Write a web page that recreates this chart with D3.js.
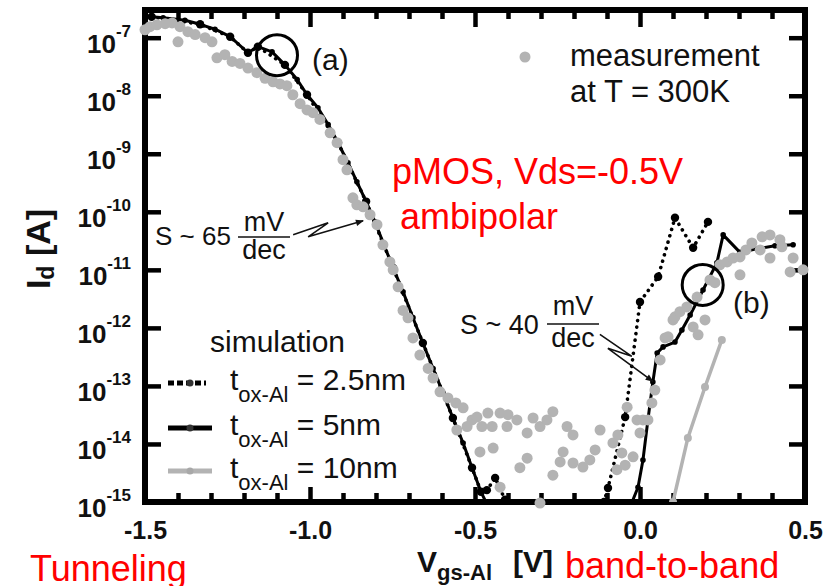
<!DOCTYPE html>
<html><head><meta charset="utf-8">
<script src="https://cdn.jsdelivr.net/npm/d3@7"></script>
<style>body{margin:0;background:#fff}svg{display:block}</style>
</head><body>
<svg id="chart" width="836" height="586"></svg>
<script>
// ---------------- data ----------------
const xTickValues = [-1.5, -1.0, -0.5, 0.0, 0.5];
const yTickExponents = [-15, -14, -13, -12, -11, -10, -9, -8, -7];

// simulation t_ox-Al = 5nm  [Vgs (V), Id (A)]
const sim5nmLeft = [[-1.48,2.3e-7],[-1.445,2.2e-7],[-1.379,2.0e-7],[-1.333,1.7e-7],[-1.288,1.4e-7],[-1.242,1.04e-7],
 [-1.188,5.5e-8],[-1.158,7.0e-8],[-1.115,5.7e-8],[-1.076,3.4e-8],[-1.039,1.9e-8],[-1.009,1.04e-8],[-0.976,6.2e-9],
 [-0.945,3.2e-9],[-0.915,1.55e-9],[-0.885,7.0e-10],[-0.858,3.3e-10],[-0.830,1.5e-10],[-0.803,6.7e-11],[-0.776,2.7e-11],
 [-0.748,1.08e-11],[-0.718,4.2e-12],[-0.688,1.5e-12],[-0.658,5.5e-13],[-0.627,2.0e-13],[-0.597,7.6e-14],[-0.567,2.8e-14],
 [-0.536,1.04e-14],[-0.509,3.9e-15],[-0.482,1.5e-15],[-0.467,1.0e-15]];
const sim5nmRight = [[-0.024,1.0e-15],[-0.006,1.8e-15],[0.009,5.3e-15],[0.024,2.6e-14],[0.039,1.17e-13],[0.052,3.7e-13],
 [0.070,4.7e-13],[0.106,5.7e-13],[0.127,9.2e-13],[0.152,1.67e-12],[0.191,4.5e-12],[0.233,1.32e-11],[0.252,4.0e-11],
 [0.303,2.0e-11],[0.355,2.3e-11],[0.409,2.6e-11],[0.464,2.7e-11]];

// simulation t_ox-Al = 2.5nm
const sim25nmLeft = [[-1.48,2.3e-7],[-1.333,1.7e-7],[-1.242,1.04e-7],[-1.188,5.5e-8],[-1.158,7.0e-8],[-1.076,3.4e-8],
 [-1.009,1.04e-8],[-0.915,1.55e-9],[-0.830,1.5e-10],[-0.748,1.08e-11],[-0.658,5.5e-13],[-0.567,2.8e-14],
 [-0.509,3.9e-15],[-0.482,1.5e-15],[-0.464,1.6e-15],[-0.439,2.6e-15],[-0.409,1.1e-15],[-0.400,8e-16]];
const sim25nmRight = [[-0.109,1.0e-15],[-0.097,1.74e-15],[-0.045,2.9e-14],[0.0,2.8e-12],[0.055,7.6e-12],
 [0.106,7.9e-11],[0.161,2.4e-11],[0.206,6.7e-11]];

// simulation t_ox-Al = 10nm
const sim10nmRight = [[0.100,1.0e-15],[0.145,1.27e-14],[0.197,9.6e-14],[0.248,6.2e-13]];

// measurement at T = 300K
const measurement = [[-1.500,1.37e-7],[-1.485,1.55e-7],[-1.464,1.67e-7],[-1.439,1.74e-7],[-1.418,1.8e-7],[-1.394,1.55e-7],
 [-1.400,8.5e-8],[-1.370,1.27e-7],[-1.348,1.13e-7],[-1.318,1.0e-7],[-1.297,8.5e-8],[-1.282,4.5e-8],[-1.258,5.1e-8],
 [-1.236,3.9e-8],[-1.212,3.6e-8],[-1.188,3.0e-8],[-1.161,2.5e-8],[-1.136,2.0e-8],[-1.112,1.74e-8],[-1.091,1.6e-8],
 [-1.070,1.49e-8],[-1.052,1.04e-8],[-1.030,7.3e-9],[-1.009,5.7e-9],[-0.991,5.1e-9],[-0.970,3.9e-9],[-0.939,2.3e-9],
 [-0.918,1.55e-9],[-0.900,7.9e-10],[-0.888,5.3e-10],[-0.870,1.74e-10],[-0.858,1.32e-10],[-0.839,1.22e-10],[-0.818,8.9e-11],
 [-0.797,6.0e-11],[-0.779,2.7e-11],[-0.758,1.37e-11],[-0.748,1.0e-11],[-0.733,5.1e-12],[-0.718,2.0e-12],[-0.703,1.49e-12],
 [-0.688,6.7e-13],[-0.667,3.4e-13],[-0.642,2.0e-13],[-0.627,1.37e-13],[-0.606,7.9e-14],[-0.582,6.2e-14],[-0.558,5.1e-14],
 [-0.536,4.2e-14],[-0.555,1.74e-14],[-0.524,2.0e-14],[-0.509,2.6e-14],[-0.494,2.9e-14],[-0.479,2.0e-14],[-0.461,3.4e-14],
 [-0.448,2.0e-14],[-0.424,3.4e-14],[-0.400,3.2e-14],[-0.403,2.0e-14],[-0.373,2.6e-14],[-0.342,1.55e-14],[-0.324,2.8e-14],
 [-0.303,2.0e-14],[-0.282,2.6e-14],[-0.264,3.6e-14],[-0.485,7.3e-15],[-0.445,8.5e-15],[-0.342,5.7e-15],[-0.364,3.9e-15],
 [-0.264,2.9e-15],[-0.233,7.3e-15],[-0.242,4.9e-15],[-0.221,2.0e-14],[-0.203,1.43e-14],[-0.203,4.7e-15],[-0.173,4.0e-15],
 [-0.152,5.3e-15],[-0.136,7.9e-15],[-0.121,1.74e-14],[-0.424,1.8e-15],[-0.303,9.6e-16],
 [-0.082,1.04e-14],[-0.067,1.43e-14],[-0.055,7.0e-15],[-0.070,3.6e-15],[-0.045,4.3e-15],[-0.039,4.3e-14],[-0.021,6.0e-15],
 [-0.009,2.6e-14],[0.009,2.6e-14],[0.000,1.55e-14],[0.024,2.6e-14],[0.036,5.1e-14],[0.045,8.5e-14],[0.061,2.8e-13],
 [0.076,6.7e-13],[0.085,7.0e-13],[0.100,1.37e-12],[0.106,1.55e-12],[0.121,1.9e-12],[0.142,2.3e-12],[0.161,1.04e-12],
 [0.176,7.6e-13],[0.173,3.4e-12],[0.197,1.37e-12],[0.212,6.7e-12],[0.227,6.0e-12],[0.242,1.22e-11],[0.264,1.37e-11],
 [0.282,1.6e-11],[0.303,1.67e-11],[0.303,8.2e-12],[0.321,2.2e-11],[0.339,2.9e-11],[0.364,2.2e-11],[0.370,3.7e-11],
 [0.394,4.0e-11],[0.394,1.6e-11],[0.424,3.3e-11],[0.430,2.5e-11],[0.455,9.2e-12],[0.464,1.6e-11],[0.494,1.0e-11]];

// annotation anchors (data coordinates)
const circleA = [-1.10, 5.0e-8];
const circleB = [0.19, 5.5e-12];
const slope65Target = [-0.839, 7.0e-11];
const slope40Target = [0.039, 1.2e-13];

// ---------------- chart ----------------
const FONT = "'Liberation Sans', Arial, Helvetica, sans-serif";
const INK = "#111";
const GRAY = "#b3b3b3";
const svg = d3.select("#chart");
const x = d3.scaleLinear().domain([-1.5, 0.5]).range([145, 805]);
const y = d3.scaleLog().domain([1e-15, 3e-7]).range([502, 10]);
const [x0, x1] = x.range();
const [yb, yt] = y.range();

svg.append("rect").attr("width", 836).attr("height", 586).attr("fill", "#fff");

const defs = svg.append("defs");
defs.append("clipPath").attr("id", "plotClip").append("rect")
  .attr("x", x0).attr("y", yt).attr("width", x1 - x0).attr("height", yb - yt);
defs.append("marker").attr("id", "arrow").attr("viewBox", "0 0 10 10").attr("refX", 9).attr("refY", 5)
  .attr("markerWidth", 10).attr("markerHeight", 8).attr("markerUnits", "userSpaceOnUse").attr("orient", "auto")
  .append("path").attr("d", "M0,1 L10,5 L0,9 Z").attr("fill", INK);

// frame
svg.append("rect").attr("x", x0).attr("y", yt).attr("width", x1 - x0).attr("height", yb - yt)
  .attr("fill", "none").attr("stroke", "#000").attr("stroke-width", 6);

function styleAxis(g) {
  g.select(".domain").remove();
  g.selectAll(".tick line").attr("stroke", "#000").attr("stroke-width", 4.5);
}
const minorX = d3.range(-14, 5).map(i => i / 10).filter(v => !xTickValues.some(t => Math.abs(t - v) < 1e-9));
const yTicks = yTickExponents.map(e => Math.pow(10, e));

// bottom
svg.append("g").attr("transform", `translate(0,${yb})`)
  .call(d3.axisBottom(x).tickValues(xTickValues).tickSizeInner(-15).tickSizeOuter(0).tickPadding(19)
    .tickFormat(d => d.toFixed(1)))
  .call(styleAxis)
  .call(g => g.selectAll("text").attr("font-family", FONT).attr("font-size", 25)
    .attr("font-weight", "bold").attr("fill", INK));
svg.append("g").attr("transform", `translate(0,${yb})`)
  .call(d3.axisBottom(x).tickValues(minorX).tickSizeInner(-9).tickSizeOuter(0).tickFormat(""))
  .call(styleAxis);
// top
svg.append("g").attr("transform", `translate(0,${yt})`)
  .call(d3.axisTop(x).tickValues(xTickValues).tickSizeInner(-17).tickSizeOuter(0).tickFormat(""))
  .call(styleAxis);
svg.append("g").attr("transform", `translate(0,${yt})`)
  .call(d3.axisTop(x).tickValues(minorX).tickSizeInner(-9).tickSizeOuter(0).tickFormat(""))
  .call(styleAxis);
// left
svg.append("g").attr("transform", `translate(${x0},0)`)
  .call(d3.axisLeft(y).tickValues(yTicks).tickSizeInner(-16).tickSizeOuter(0).tickFormat(""))
  .call(styleAxis);
// right
svg.append("g").attr("transform", `translate(${x1},0)`)
  .call(d3.axisRight(y).tickValues(yTicks).tickSizeInner(-16).tickSizeOuter(0).tickFormat(""))
  .call(styleAxis);

// y tick labels 10^n
yTickExponents.forEach(e => {
  const t = svg.append("text").attr("x", 131).attr("y", y(Math.pow(10, e)) + 15)
    .attr("text-anchor", "end").attr("font-family", FONT).attr("font-weight", "bold").attr("fill", INK);
  t.append("tspan").attr("font-size", 26).text("10");
  t.append("tspan").attr("font-size", 17).attr("dy", -16).text("-" + Math.abs(e));
});

// axis titles
const yl = svg.append("text").attr("transform", "translate(50,249) rotate(-90)").attr("text-anchor", "middle")
  .attr("font-family", FONT).attr("font-weight", "bold").attr("font-size", 34).attr("fill", INK);
yl.append("tspan").text("I");
yl.append("tspan").attr("font-size", 23).attr("dy", 4).text("d");
yl.append("tspan").attr("dy", -4).text("\u00a0[A]");

const xl = svg.append("text").attr("x", 417).attr("y", 572).attr("font-family", FONT)
  .attr("font-weight", "bold").attr("font-size", 30).attr("fill", INK);
xl.append("tspan").text("V");
xl.append("tspan").attr("font-size", 22).attr("dy", 8).text("gs-Al");
svg.append("text").attr("x", 513).attr("y", 572).attr("font-family", FONT).attr("font-weight", "bold")
  .attr("font-size", 30).attr("fill", INK).text("[V]");

// simulation lines
const line = d3.line().x(d => x(d[0])).y(d => y(d[1]));
const plot = svg.append("g").attr("clip-path", "url(#plotClip)");

function dotted(data) {
  plot.append("path").datum(data).attr("d", line).attr("fill", "none").attr("stroke", "#000")
    .attr("stroke-width", 3.6).attr("stroke-dasharray", "0.1,6.5").attr("stroke-linecap", "round");
  plot.append("g").selectAll("circle").data(data).join("circle")
    .attr("cx", d => x(d[0])).attr("cy", d => y(d[1])).attr("r", 4.2).attr("fill", "#000");
}
function solid(data, color, w, r) {
  plot.append("path").datum(data).attr("d", line).attr("fill", "none").attr("stroke", color)
    .attr("stroke-width", w).attr("stroke-linejoin", "round");
  plot.append("g").selectAll("circle").data(data).join("circle")
    .attr("cx", d => x(d[0])).attr("cy", d => y(d[1])).attr("r", r).attr("fill", color);
}
dotted(sim25nmLeft);
dotted(sim25nmRight);
solid(sim10nmRight, GRAY, 3.5, 4);
solid(sim5nmLeft, "#000", 3, 2.8);
solid(sim5nmRight, "#000", 3, 2.8);

// measurement dots
svg.append("g").selectAll("circle").data(measurement).join("circle")
  .attr("cx", d => x(d[0])).attr("cy", d => y(d[1])).attr("r", 5.5).attr("fill", GRAY);

// circles (a), (b)
[circleA, circleB].forEach(c => {
  svg.append("circle").attr("cx", x(c[0])).attr("cy", y(c[1])).attr("r", 20.5)
    .attr("fill", "none").attr("stroke", "#000").attr("stroke-width", 3);
});

function txt(xp, yp, s, size, opts = {}) {
  return svg.append("text").attr("x", xp).attr("y", yp).attr("font-family", FONT)
    .attr("font-size", size).attr("fill", opts.fill || INK)
    .attr("font-weight", opts.bold ? "bold" : "normal")
    .attr("text-anchor", opts.anchor || "start").text(s);
}
txt(312, 70, "(a)", 30);
txt(733, 313, "(b)", 30);

// legend: measurement
svg.append("circle").attr("cx", 525).attr("cy", 57).attr("r", 5.5).attr("fill", GRAY);
txt(570, 66, "measurement", 31);
txt(570, 102, "at T = 300K", 31);

// legend: simulation
txt(210, 352, "simulation", 30);
const legendRows = [
  {label: "= 2.5nm", y: 390, kind: "dotted"},
  {label: "= 5nm", y: 435, kind: "solid"},
  {label: "= 10nm", y: 478, kind: "gray"}
];
legendRows.forEach(r => {
  const ly = r.y - 7;
  if (r.kind === "dotted") {
    svg.append("line").attr("x1", 168).attr("x2", 206).attr("y1", ly).attr("y2", ly).attr("stroke", "#000")
      .attr("stroke-width", 5).attr("stroke-dasharray", "6,3");
  } else {
    svg.append("line").attr("x1", 168).attr("x2", 212).attr("y1", ly).attr("y2", ly)
      .attr("stroke", r.kind === "gray" ? GRAY : "#000").attr("stroke-width", 5);
  }
  svg.append("circle").attr("cx", 190).attr("cy", ly).attr("r", 3.5)
    .attr("fill", r.kind === "gray" ? "#a8a8a8" : "#333");
  const t = svg.append("text").attr("x", 230).attr("y", r.y).attr("font-family", FONT)
    .attr("font-size", 30).attr("fill", INK);
  t.append("tspan").text("t");
  t.append("tspan").attr("font-size", 22).attr("dy", 12).text("ox-Al");
  t.append("tspan").attr("dy", -12).text(" " + r.label);
});

// slope annotations
function fraction(cx, yTop, yBar, yBot, size) {
  txt(cx, yTop, "mV", size, {anchor: "middle"});
  svg.append("line").attr("x1", cx - 26).attr("x2", cx + 26).attr("y1", yBar).attr("y2", yBar)
    .attr("stroke", INK).attr("stroke-width", 1.6);
  txt(cx, yBot, "dec", size, {anchor: "middle"});
}
txt(155, 245, "S ~ 65", 26);
fraction(264, 231, 237, 259, 27);
{
  const tx = x(slope65Target[0]), ty = y(slope65Target[1]);
  svg.append("path").attr("d", `M${tx-70},${ty+14} L${tx-35},${ty+2} L${tx-55},${ty+16} L${tx},${ty}`)
    .attr("fill", "none").attr("stroke", INK).attr("stroke-width", 1.6).attr("marker-end", "url(#arrow)");
}
txt(460, 334, "S ~ 40", 27);
fraction(573, 315, 324, 347, 27);
{
  const tx = x(slope40Target[0]), ty = y(slope40Target[1]);
  svg.append("path").attr("d", `M${tx-53},${ty-47} L${tx-21},${ty-25} L${tx-45},${ty-33} L${tx},${ty}`)
    .attr("fill", "none").attr("stroke", INK).attr("stroke-width", 1.6).attr("marker-end", "url(#arrow)");
}

// red annotations
const RED = "#ff0000";
txt(392, 184, "pMOS, Vds=-0.5V", 36, {fill: RED});
txt(400, 229, "ambipolar", 36, {fill: RED});
txt(30, 581, "Tunneling", 36, {fill: RED});
txt(565, 578, "band-to-band", 36, {fill: RED});
</script>
</body></html>
